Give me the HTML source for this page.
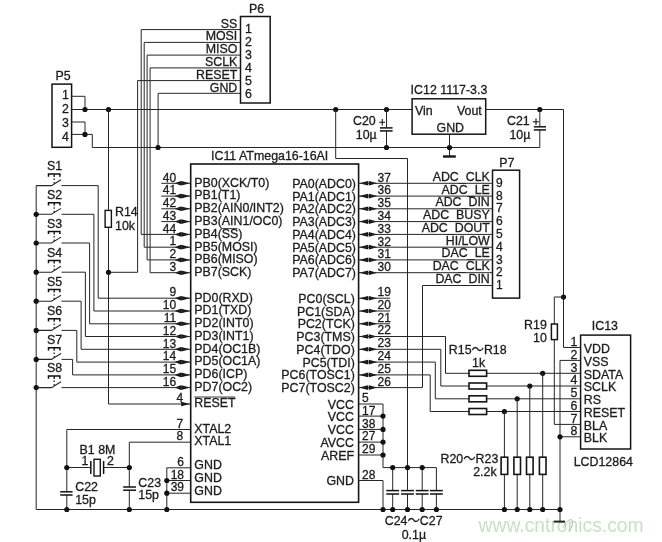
<!DOCTYPE html>
<html><head><meta charset="utf-8"><title>schematic</title>
<style>
html,body{margin:0;padding:0;background:#fff;}
body{width:662px;height:542px;overflow:hidden;}
svg{display:block;will-change:transform;}
text{stroke:#1c1c1c;stroke-width:0.3px;}
text.wm{stroke:none;}
svg{font-family:"Liberation Sans","Noto Sans CJK SC",sans-serif;}
</style></head><body>
<svg width="662" height="542" viewBox="0 0 662 542">
<text x="478.6" y="532.3" text-anchor="start" font-size="19.3" fill="#c6e2c2" class="wm">www.cntronics.com</text>
<path d="M563.5,527.5 C566,520.5 571,518 572.6,521 C573.4,524 571.5,528 569,531" stroke="#a8aaa6" stroke-width="0.9" fill="none"/>
<rect x="190.7" y="164.0" width="167.9" height="338.3" stroke="#151515" stroke-width="1.6" fill="none"/>
<text x="211.0" y="159.7" text-anchor="start" font-size="12.4" fill="#1c1c1c">IC11 ATmega16-16AI</text>
<text x="194.3" y="186.6" text-anchor="start" font-size="12.4" fill="#1c1c1c">PB0(XCK/T0)</text>
<text x="176.2" y="181.5" text-anchor="end" font-size="12" fill="#1c1c1c">40</text>
<path d="M190.2,183.3 L181.2,181.0 L181.2,185.6Z" fill="#111"/>
<path d="M174.5,183.3 L181.0,181.0 L181.0,185.6Z" fill="#111"/>
<text x="194.3" y="199.4" text-anchor="start" font-size="12.4" fill="#1c1c1c">PB1(T1)</text>
<text x="176.2" y="194.3" text-anchor="end" font-size="12" fill="#1c1c1c">41</text>
<path d="M190.2,196.1 L181.2,193.8 L181.2,198.4Z" fill="#111"/>
<path d="M174.5,196.1 L181.0,193.8 L181.0,198.4Z" fill="#111"/>
<text x="194.3" y="212.1" text-anchor="start" font-size="12.4" fill="#1c1c1c">PB2(AIN0/INT2)</text>
<text x="176.2" y="207.0" text-anchor="end" font-size="12" fill="#1c1c1c">42</text>
<path d="M190.2,208.8 L181.2,206.5 L181.2,211.1Z" fill="#111"/>
<path d="M174.5,208.8 L181.0,206.5 L181.0,211.1Z" fill="#111"/>
<text x="194.3" y="224.9" text-anchor="start" font-size="12.4" fill="#1c1c1c">PB3(AIN1/OC0)</text>
<text x="176.2" y="219.8" text-anchor="end" font-size="12" fill="#1c1c1c">43</text>
<path d="M190.2,221.6 L181.2,219.3 L181.2,223.9Z" fill="#111"/>
<path d="M174.5,221.6 L181.0,219.3 L181.0,223.9Z" fill="#111"/>
<text x="194.3" y="237.7" text-anchor="start" font-size="12.4" fill="#1c1c1c">PB4(SS)</text>
<text x="176.2" y="232.6" text-anchor="end" font-size="12" fill="#1c1c1c">44</text>
<path d="M190.2,234.4 L181.2,232.1 L181.2,236.7Z" fill="#111"/>
<path d="M174.5,234.4 L181.0,232.1 L181.0,236.7Z" fill="#111"/>
<text x="194.3" y="250.5" text-anchor="start" font-size="12.4" fill="#1c1c1c">PB5(MOSI)</text>
<text x="176.2" y="245.3" text-anchor="end" font-size="12" fill="#1c1c1c">1</text>
<path d="M190.2,247.2 L181.2,244.8 L181.2,249.5Z" fill="#111"/>
<path d="M174.5,247.2 L181.0,244.8 L181.0,249.5Z" fill="#111"/>
<text x="194.3" y="263.2" text-anchor="start" font-size="12.4" fill="#1c1c1c">PB6(MISO)</text>
<text x="176.2" y="258.1" text-anchor="end" font-size="12" fill="#1c1c1c">2</text>
<path d="M190.2,259.9 L181.2,257.6 L181.2,262.2Z" fill="#111"/>
<path d="M174.5,259.9 L181.0,257.6 L181.0,262.2Z" fill="#111"/>
<text x="194.3" y="276.0" text-anchor="start" font-size="12.4" fill="#1c1c1c">PB7(SCK)</text>
<text x="176.2" y="270.9" text-anchor="end" font-size="12" fill="#1c1c1c">3</text>
<path d="M190.2,272.7 L181.2,270.4 L181.2,275.0Z" fill="#111"/>
<path d="M174.5,272.7 L181.0,270.4 L181.0,275.0Z" fill="#111"/>
<path d="M221.5,228.6 L237.2,228.6" stroke="#262626" stroke-width="0.9" fill="none"/>
<text x="194.3" y="301.5" text-anchor="start" font-size="12.4" fill="#1c1c1c">PD0(RXD)</text>
<text x="176.2" y="296.4" text-anchor="end" font-size="12" fill="#1c1c1c">9</text>
<path d="M190.2,298.2 L181.2,295.9 L181.2,300.5Z" fill="#111"/>
<path d="M174.5,298.2 L181.0,295.9 L181.0,300.5Z" fill="#111"/>
<text x="194.3" y="314.3" text-anchor="start" font-size="12.4" fill="#1c1c1c">PD1(TXD)</text>
<text x="176.2" y="309.2" text-anchor="end" font-size="12" fill="#1c1c1c">10</text>
<path d="M190.2,311.0 L181.2,308.7 L181.2,313.3Z" fill="#111"/>
<path d="M174.5,311.0 L181.0,308.7 L181.0,313.3Z" fill="#111"/>
<text x="194.3" y="327.1" text-anchor="start" font-size="12.4" fill="#1c1c1c">PD2(INT0)</text>
<text x="176.2" y="322.0" text-anchor="end" font-size="12" fill="#1c1c1c">11</text>
<path d="M190.2,323.8 L181.2,321.5 L181.2,326.1Z" fill="#111"/>
<path d="M174.5,323.8 L181.0,321.5 L181.0,326.1Z" fill="#111"/>
<text x="194.3" y="339.8" text-anchor="start" font-size="12.4" fill="#1c1c1c">PD3(INT1)</text>
<text x="176.2" y="334.7" text-anchor="end" font-size="12" fill="#1c1c1c">12</text>
<path d="M190.2,336.5 L181.2,334.2 L181.2,338.8Z" fill="#111"/>
<path d="M174.5,336.5 L181.0,334.2 L181.0,338.8Z" fill="#111"/>
<text x="194.3" y="352.6" text-anchor="start" font-size="12.4" fill="#1c1c1c">PD4(OC1B)</text>
<text x="176.2" y="347.5" text-anchor="end" font-size="12" fill="#1c1c1c">13</text>
<path d="M190.2,349.3 L181.2,347.0 L181.2,351.6Z" fill="#111"/>
<path d="M174.5,349.3 L181.0,347.0 L181.0,351.6Z" fill="#111"/>
<text x="194.3" y="365.4" text-anchor="start" font-size="12.4" fill="#1c1c1c">PD5(OC1A)</text>
<text x="176.2" y="360.3" text-anchor="end" font-size="12" fill="#1c1c1c">14</text>
<path d="M190.2,362.1 L181.2,359.8 L181.2,364.4Z" fill="#111"/>
<path d="M174.5,362.1 L181.0,359.8 L181.0,364.4Z" fill="#111"/>
<text x="194.3" y="378.2" text-anchor="start" font-size="12.4" fill="#1c1c1c">PD6(ICP)</text>
<text x="176.2" y="373.1" text-anchor="end" font-size="12" fill="#1c1c1c">15</text>
<path d="M190.2,374.9 L181.2,372.6 L181.2,377.2Z" fill="#111"/>
<path d="M174.5,374.9 L181.0,372.6 L181.0,377.2Z" fill="#111"/>
<text x="194.3" y="390.9" text-anchor="start" font-size="12.4" fill="#1c1c1c">PD7(OC2)</text>
<text x="176.2" y="385.8" text-anchor="end" font-size="12" fill="#1c1c1c">16</text>
<path d="M190.2,387.6 L181.2,385.3 L181.2,389.9Z" fill="#111"/>
<path d="M174.5,387.6 L181.0,385.3 L181.0,389.9Z" fill="#111"/>
<text x="194.3" y="406.6" text-anchor="start" font-size="12.4" fill="#1c1c1c">RESET</text>
<path d="M194.3,397.0 L235.0,397.0" stroke="#262626" stroke-width="0.9" fill="none"/>
<text x="183.2" y="401.5" text-anchor="end" font-size="12" fill="#1c1c1c">4</text>
<path d="M190.2,404.0 L181.2,401.7 L181.2,406.3Z" fill="#111"/>
<text x="194.3" y="432.8" text-anchor="start" font-size="12.4" fill="#1c1c1c">XTAL2</text>
<text x="194.3" y="444.9" text-anchor="start" font-size="12.4" fill="#1c1c1c">XTAL1</text>
<text x="183.3" y="427.7" text-anchor="end" font-size="12" fill="#1c1c1c">7</text>
<text x="183.3" y="440.4" text-anchor="end" font-size="12" fill="#1c1c1c">8</text>
<text x="194.3" y="469.4" text-anchor="start" font-size="12.4" fill="#1c1c1c">GND</text>
<text x="184.0" y="465.8" text-anchor="end" font-size="12" fill="#1c1c1c">6</text>
<text x="194.3" y="482.2" text-anchor="start" font-size="12.4" fill="#1c1c1c">GND</text>
<text x="184.0" y="478.5" text-anchor="end" font-size="12" fill="#1c1c1c">18</text>
<text x="194.3" y="494.9" text-anchor="start" font-size="12.4" fill="#1c1c1c">GND</text>
<text x="184.0" y="491.2" text-anchor="end" font-size="12" fill="#1c1c1c">39</text>
<text x="356.0" y="187.8" text-anchor="end" font-size="12.4" fill="#1c1c1c">PA0(ADC0)</text>
<text x="377.5" y="181.6" text-anchor="start" font-size="12" fill="#1c1c1c">37</text>
<path d="M359.1,183.3 L368.1,181.0 L368.1,185.6Z" fill="#111"/>
<path d="M377.3,183.3 L368.8,181.0 L368.8,185.6Z" fill="#111"/>
<text x="356.0" y="200.6" text-anchor="end" font-size="12.4" fill="#1c1c1c">PA1(ADC1)</text>
<text x="377.5" y="194.4" text-anchor="start" font-size="12" fill="#1c1c1c">36</text>
<path d="M359.1,196.1 L368.1,193.8 L368.1,198.4Z" fill="#111"/>
<path d="M377.3,196.1 L368.8,193.8 L368.8,198.4Z" fill="#111"/>
<text x="356.0" y="213.3" text-anchor="end" font-size="12.4" fill="#1c1c1c">PA2(ADC2)</text>
<text x="377.5" y="207.1" text-anchor="start" font-size="12" fill="#1c1c1c">35</text>
<path d="M359.1,208.8 L368.1,206.5 L368.1,211.1Z" fill="#111"/>
<path d="M377.3,208.8 L368.8,206.5 L368.8,211.1Z" fill="#111"/>
<text x="356.0" y="226.1" text-anchor="end" font-size="12.4" fill="#1c1c1c">PA3(ADC3)</text>
<text x="377.5" y="219.9" text-anchor="start" font-size="12" fill="#1c1c1c">34</text>
<path d="M359.1,221.6 L368.1,219.3 L368.1,223.9Z" fill="#111"/>
<path d="M377.3,221.6 L368.8,219.3 L368.8,223.9Z" fill="#111"/>
<text x="356.0" y="238.9" text-anchor="end" font-size="12.4" fill="#1c1c1c">PA4(ADC4)</text>
<text x="377.5" y="232.7" text-anchor="start" font-size="12" fill="#1c1c1c">33</text>
<path d="M359.1,234.4 L368.1,232.1 L368.1,236.7Z" fill="#111"/>
<path d="M377.3,234.4 L368.8,232.1 L368.8,236.7Z" fill="#111"/>
<text x="356.0" y="251.7" text-anchor="end" font-size="12.4" fill="#1c1c1c">PA5(ADC5)</text>
<text x="377.5" y="245.5" text-anchor="start" font-size="12" fill="#1c1c1c">32</text>
<path d="M359.1,247.2 L368.1,244.8 L368.1,249.5Z" fill="#111"/>
<path d="M377.3,247.2 L368.8,244.8 L368.8,249.5Z" fill="#111"/>
<text x="356.0" y="264.4" text-anchor="end" font-size="12.4" fill="#1c1c1c">PA6(ADC6)</text>
<text x="377.5" y="258.2" text-anchor="start" font-size="12" fill="#1c1c1c">31</text>
<path d="M359.1,259.9 L368.1,257.6 L368.1,262.2Z" fill="#111"/>
<path d="M377.3,259.9 L368.8,257.6 L368.8,262.2Z" fill="#111"/>
<text x="356.0" y="277.2" text-anchor="end" font-size="12.4" fill="#1c1c1c">PA7(ADC7)</text>
<text x="377.5" y="271.0" text-anchor="start" font-size="12" fill="#1c1c1c">30</text>
<path d="M359.1,272.7 L368.1,270.4 L368.1,275.0Z" fill="#111"/>
<path d="M377.3,272.7 L368.8,270.4 L368.8,275.0Z" fill="#111"/>
<text x="354.8" y="302.7" text-anchor="end" font-size="12.4" fill="#1c1c1c">PC0(SCL)</text>
<text x="377.5" y="296.1" text-anchor="start" font-size="12" fill="#1c1c1c">19</text>
<path d="M359.1,298.2 L368.1,295.9 L368.1,300.5Z" fill="#111"/>
<path d="M377.3,298.2 L368.8,295.9 L368.8,300.5Z" fill="#111"/>
<text x="354.8" y="315.5" text-anchor="end" font-size="12.4" fill="#1c1c1c">PC1(SDA)</text>
<text x="377.5" y="308.9" text-anchor="start" font-size="12" fill="#1c1c1c">20</text>
<path d="M359.1,311.0 L368.1,308.7 L368.1,313.3Z" fill="#111"/>
<path d="M377.3,311.0 L368.8,308.7 L368.8,313.3Z" fill="#111"/>
<text x="354.8" y="328.3" text-anchor="end" font-size="12.4" fill="#1c1c1c">PC2(TCK)</text>
<text x="377.5" y="321.7" text-anchor="start" font-size="12" fill="#1c1c1c">21</text>
<path d="M359.1,323.8 L368.1,321.5 L368.1,326.1Z" fill="#111"/>
<path d="M377.3,323.8 L368.8,321.5 L368.8,326.1Z" fill="#111"/>
<text x="354.8" y="341.0" text-anchor="end" font-size="12.4" fill="#1c1c1c">PC3(TMS)</text>
<text x="377.5" y="334.4" text-anchor="start" font-size="12" fill="#1c1c1c">22</text>
<path d="M359.1,336.5 L368.1,334.2 L368.1,338.8Z" fill="#111"/>
<path d="M377.3,336.5 L368.8,334.2 L368.8,338.8Z" fill="#111"/>
<text x="354.8" y="353.8" text-anchor="end" font-size="12.4" fill="#1c1c1c">PC4(TDO)</text>
<text x="377.5" y="347.2" text-anchor="start" font-size="12" fill="#1c1c1c">23</text>
<path d="M359.1,349.3 L368.1,347.0 L368.1,351.6Z" fill="#111"/>
<path d="M377.3,349.3 L368.8,347.0 L368.8,351.6Z" fill="#111"/>
<text x="354.8" y="366.6" text-anchor="end" font-size="12.4" fill="#1c1c1c">PC5(TDI)</text>
<text x="377.5" y="360.0" text-anchor="start" font-size="12" fill="#1c1c1c">24</text>
<path d="M359.1,362.1 L368.1,359.8 L368.1,364.4Z" fill="#111"/>
<path d="M377.3,362.1 L368.8,359.8 L368.8,364.4Z" fill="#111"/>
<text x="354.8" y="379.4" text-anchor="end" font-size="12.4" fill="#1c1c1c">PC6(TOSC1)</text>
<text x="377.5" y="372.8" text-anchor="start" font-size="12" fill="#1c1c1c">25</text>
<path d="M359.1,374.9 L368.1,372.6 L368.1,377.2Z" fill="#111"/>
<path d="M377.3,374.9 L368.8,372.6 L368.8,377.2Z" fill="#111"/>
<text x="354.8" y="392.1" text-anchor="end" font-size="12.4" fill="#1c1c1c">PC7(TOSC2)</text>
<text x="377.5" y="385.5" text-anchor="start" font-size="12" fill="#1c1c1c">26</text>
<path d="M359.1,387.6 L368.1,385.3 L368.1,389.9Z" fill="#111"/>
<path d="M377.3,387.6 L368.8,385.3 L368.8,389.9Z" fill="#111"/>
<text x="354.0" y="408.6" text-anchor="end" font-size="12.4" fill="#1c1c1c">VCC</text>
<text x="362.0" y="402.0" text-anchor="start" font-size="12" fill="#1c1c1c">5</text>
<text x="354.0" y="421.4" text-anchor="end" font-size="12.4" fill="#1c1c1c">VCC</text>
<text x="362.0" y="414.8" text-anchor="start" font-size="12" fill="#1c1c1c">17</text>
<text x="354.0" y="434.1" text-anchor="end" font-size="12.4" fill="#1c1c1c">VCC</text>
<text x="362.0" y="427.5" text-anchor="start" font-size="12" fill="#1c1c1c">38</text>
<text x="354.0" y="446.9" text-anchor="end" font-size="12.4" fill="#1c1c1c">AVCC</text>
<text x="362.0" y="440.2" text-anchor="start" font-size="12" fill="#1c1c1c">27</text>
<text x="354.0" y="459.6" text-anchor="end" font-size="12.4" fill="#1c1c1c">AREF</text>
<text x="362.0" y="453.0" text-anchor="start" font-size="12" fill="#1c1c1c">29</text>
<text x="354.0" y="484.8" text-anchor="end" font-size="12.4" fill="#1c1c1c">GND</text>
<text x="362.0" y="478.5" text-anchor="start" font-size="12" fill="#1c1c1c">28</text>
<path d="M161.3,183.3 L190.7,183.3" stroke="#262626" stroke-width="1.0" fill="none"/>
<path d="M161.3,196.1 L190.7,196.1" stroke="#262626" stroke-width="1.0" fill="none"/>
<path d="M161.3,208.8 L190.7,208.8" stroke="#262626" stroke-width="1.0" fill="none"/>
<path d="M161.3,221.6 L190.7,221.6" stroke="#262626" stroke-width="1.0" fill="none"/>
<path d="M240.5,29.6 L141.2,29.6 L141.2,234.4 L190.7,234.4" stroke="#262626" stroke-width="1.0" fill="none"/>
<path d="M240.5,42.4 L144.2,42.4 L144.2,247.2 L190.7,247.2" stroke="#262626" stroke-width="1.0" fill="none"/>
<path d="M240.5,55.1 L147.1,55.1 L147.1,259.9 L190.7,259.9" stroke="#262626" stroke-width="1.0" fill="none"/>
<path d="M240.5,67.9 L150.1,67.9 L150.1,272.7 L190.7,272.7" stroke="#262626" stroke-width="1.0" fill="none"/>
<path d="M240.5,80.6 L137.6,80.6 L137.6,272.3 L108.5,272.3" stroke="#262626" stroke-width="1.0" fill="none"/>
<path d="M240.5,93.3 L158.1,93.3 L158.1,147.5" stroke="#262626" stroke-width="1.0" fill="none"/>
<rect x="240.5" y="16.5" width="29.7" height="86.5" stroke="#151515" stroke-width="1.5" fill="none"/>
<text x="249.0" y="13.4" text-anchor="start" font-size="12.4" fill="#1c1c1c">P6</text>
<text x="237.3" y="27.5" text-anchor="end" font-size="12.4" fill="#1c1c1c">SS</text>
<text x="245.0" y="33.0" text-anchor="start" font-size="12.4" fill="#1c1c1c">1</text>
<text x="237.3" y="40.2" text-anchor="end" font-size="12.4" fill="#1c1c1c">MOSI</text>
<text x="245.0" y="45.9" text-anchor="start" font-size="12.4" fill="#1c1c1c">2</text>
<text x="237.3" y="53.0" text-anchor="end" font-size="12.4" fill="#1c1c1c">MISO</text>
<text x="245.0" y="58.8" text-anchor="start" font-size="12.4" fill="#1c1c1c">3</text>
<text x="237.3" y="66.0" text-anchor="end" font-size="12.4" fill="#1c1c1c">SCLK</text>
<text x="245.0" y="71.7" text-anchor="start" font-size="12.4" fill="#1c1c1c">4</text>
<text x="237.3" y="78.6" text-anchor="end" font-size="12.4" fill="#1c1c1c">RESET</text>
<text x="245.0" y="84.6" text-anchor="start" font-size="12.4" fill="#1c1c1c">5</text>
<text x="237.3" y="91.8" text-anchor="end" font-size="12.4" fill="#1c1c1c">GND</text>
<text x="245.0" y="97.5" text-anchor="start" font-size="12.4" fill="#1c1c1c">6</text>
<rect x="52.0" y="84.1" width="19.6" height="63.2" stroke="#151515" stroke-width="1.5" fill="none"/>
<text x="55.5" y="80.1" text-anchor="start" font-size="12.4" fill="#1c1c1c">P5</text>
<text x="65.4" y="99.2" text-anchor="middle" font-size="12.4" fill="#1c1c1c">1</text>
<text x="65.4" y="113.4" text-anchor="middle" font-size="12.4" fill="#1c1c1c">2</text>
<text x="65.4" y="127.3" text-anchor="middle" font-size="12.4" fill="#1c1c1c">3</text>
<text x="65.4" y="141.2" text-anchor="middle" font-size="12.4" fill="#1c1c1c">4</text>
<path d="M72.0,96.3 L85.0,96.3 L85.0,109.5" stroke="#262626" stroke-width="1.0" fill="none"/>
<path d="M72.0,109.5 L412.1,109.5" stroke="#262626" stroke-width="1.0" fill="none"/>
<path d="M72.0,122.0 L85.0,122.0 L85.0,134.4" stroke="#262626" stroke-width="1.0" fill="none"/>
<path d="M72.0,134.4 L92.3,134.4 L92.3,147.5 L539.8,147.5 L539.8,130.0" stroke="#262626" stroke-width="1.0" fill="none"/>
<circle cx="85.0" cy="109.5" r="2.6" fill="#111"/>
<circle cx="108.5" cy="109.5" r="2.6" fill="#111"/>
<circle cx="85.0" cy="134.4" r="2.6" fill="#111"/>
<circle cx="158.0" cy="147.5" r="2.6" fill="#111"/>
<path d="M108.5,109.5 L108.5,210.0" stroke="#262626" stroke-width="1.0" fill="none"/>
<path d="M108.5,227.0 L108.5,404.0 L190.7,404.0" stroke="#262626" stroke-width="1.0" fill="none"/>
<rect x="105.1" y="210.4" width="6.3" height="16.9" stroke="#151515" stroke-width="1.4" fill="#fff"/>
<text x="115.0" y="215.8" text-anchor="start" font-size="12.4" fill="#1c1c1c">R14</text>
<text x="115.0" y="230.0" text-anchor="start" font-size="12.4" fill="#1c1c1c">10k</text>
<circle cx="108.5" cy="272.3" r="2.6" fill="#111"/>
<path d="M36.2,185.6 L36.2,509.5 L560.0,509.5" stroke="#262626" stroke-width="1.0" fill="none"/>
<path d="M36.2,185.6 L51.5,185.6 L61.0,179.7" stroke="#262626" stroke-width="1.1" fill="none"/>
<path d="M61.5,185.6 L98.2,185.6 L98.2,298.2 L190.7,298.2" stroke="#262626" stroke-width="1.0" fill="none"/>
<text x="47.0" y="170.3" text-anchor="start" font-size="12.4" fill="#1c1c1c">S1</text>
<path d="M48.5,176.7 L48.5,174.0 L59.9,174.0 L59.9,176.7" stroke="#111" stroke-width="1.5" fill="none"/>
<path d="M54.2,174.0 L54.2,177.0" stroke="#111" stroke-width="1.3" fill="none"/>
<path d="M54.2,178.6 V183.8" stroke="#262626" stroke-width="1.3" stroke-dasharray="1.5 2" fill="none"/>
<path d="M36.2,214.3 L51.5,214.3 L61.0,208.4" stroke="#262626" stroke-width="1.1" fill="none"/>
<path d="M61.5,214.3 L93.9,214.3 L93.9,311.0 L190.7,311.0" stroke="#262626" stroke-width="1.0" fill="none"/>
<circle cx="36.2" cy="214.3" r="2.6" fill="#111"/>
<text x="47.0" y="199.0" text-anchor="start" font-size="12.4" fill="#1c1c1c">S2</text>
<path d="M48.5,205.4 L48.5,202.7 L59.9,202.7 L59.9,205.4" stroke="#111" stroke-width="1.5" fill="none"/>
<path d="M54.2,202.7 L54.2,205.7" stroke="#111" stroke-width="1.3" fill="none"/>
<path d="M54.2,207.3 V212.5" stroke="#262626" stroke-width="1.3" stroke-dasharray="1.5 2" fill="none"/>
<path d="M36.2,243.0 L51.5,243.0 L61.0,237.1" stroke="#262626" stroke-width="1.1" fill="none"/>
<path d="M61.5,243.0 L89.6,243.0 L89.6,323.8 L190.7,323.8" stroke="#262626" stroke-width="1.0" fill="none"/>
<circle cx="36.2" cy="243.0" r="2.6" fill="#111"/>
<text x="47.0" y="227.7" text-anchor="start" font-size="12.4" fill="#1c1c1c">S3</text>
<path d="M48.5,234.1 L48.5,231.4 L59.9,231.4 L59.9,234.1" stroke="#111" stroke-width="1.5" fill="none"/>
<path d="M54.2,231.4 L54.2,234.4" stroke="#111" stroke-width="1.3" fill="none"/>
<path d="M54.2,236.0 V241.2" stroke="#262626" stroke-width="1.3" stroke-dasharray="1.5 2" fill="none"/>
<path d="M36.2,272.2 L51.5,272.2 L61.0,266.3" stroke="#262626" stroke-width="1.1" fill="none"/>
<path d="M61.5,272.2 L85.4,272.2 L85.4,336.5 L190.7,336.5" stroke="#262626" stroke-width="1.0" fill="none"/>
<circle cx="36.2" cy="272.2" r="2.6" fill="#111"/>
<text x="47.0" y="256.9" text-anchor="start" font-size="12.4" fill="#1c1c1c">S4</text>
<path d="M48.5,263.3 L48.5,260.6 L59.9,260.6 L59.9,263.3" stroke="#111" stroke-width="1.5" fill="none"/>
<path d="M54.2,260.6 L54.2,263.6" stroke="#111" stroke-width="1.3" fill="none"/>
<path d="M54.2,265.2 V270.4" stroke="#262626" stroke-width="1.3" stroke-dasharray="1.5 2" fill="none"/>
<path d="M36.2,301.2 L51.5,301.2 L61.0,295.3" stroke="#262626" stroke-width="1.1" fill="none"/>
<path d="M61.5,301.2 L81.1,301.2 L81.1,349.3 L190.7,349.3" stroke="#262626" stroke-width="1.0" fill="none"/>
<circle cx="36.2" cy="301.2" r="2.6" fill="#111"/>
<text x="47.0" y="285.9" text-anchor="start" font-size="12.4" fill="#1c1c1c">S5</text>
<path d="M48.5,292.3 L48.5,289.6 L59.9,289.6 L59.9,292.3" stroke="#111" stroke-width="1.5" fill="none"/>
<path d="M54.2,289.6 L54.2,292.6" stroke="#111" stroke-width="1.3" fill="none"/>
<path d="M54.2,294.2 V299.4" stroke="#262626" stroke-width="1.3" stroke-dasharray="1.5 2" fill="none"/>
<path d="M36.2,330.4 L51.5,330.4 L61.0,324.5" stroke="#262626" stroke-width="1.1" fill="none"/>
<path d="M61.5,330.4 L76.8,330.4 L76.8,362.1 L190.7,362.1" stroke="#262626" stroke-width="1.0" fill="none"/>
<circle cx="36.2" cy="330.4" r="2.6" fill="#111"/>
<text x="47.0" y="315.1" text-anchor="start" font-size="12.4" fill="#1c1c1c">S6</text>
<path d="M48.5,321.5 L48.5,318.8 L59.9,318.8 L59.9,321.5" stroke="#111" stroke-width="1.5" fill="none"/>
<path d="M54.2,318.8 L54.2,321.8" stroke="#111" stroke-width="1.3" fill="none"/>
<path d="M54.2,323.4 V328.6" stroke="#262626" stroke-width="1.3" stroke-dasharray="1.5 2" fill="none"/>
<path d="M36.2,359.4 L51.5,359.4 L61.0,353.5" stroke="#262626" stroke-width="1.1" fill="none"/>
<path d="M61.5,359.4 L72.6,359.4 L72.6,374.9 L190.7,374.9" stroke="#262626" stroke-width="1.0" fill="none"/>
<circle cx="36.2" cy="359.4" r="2.6" fill="#111"/>
<text x="47.0" y="344.1" text-anchor="start" font-size="12.4" fill="#1c1c1c">S7</text>
<path d="M48.5,350.5 L48.5,347.8 L59.9,347.8 L59.9,350.5" stroke="#111" stroke-width="1.5" fill="none"/>
<path d="M54.2,347.8 L54.2,350.8" stroke="#111" stroke-width="1.3" fill="none"/>
<path d="M54.2,352.4 V357.6" stroke="#262626" stroke-width="1.3" stroke-dasharray="1.5 2" fill="none"/>
<path d="M36.2,387.6 L51.5,387.6 L61.0,381.7" stroke="#262626" stroke-width="1.1" fill="none"/>
<path d="M61.5,387.6 L190.7,387.6" stroke="#262626" stroke-width="1.0" fill="none"/>
<circle cx="36.2" cy="387.6" r="2.6" fill="#111"/>
<text x="47.0" y="372.3" text-anchor="start" font-size="12.4" fill="#1c1c1c">S8</text>
<path d="M48.5,378.7 L48.5,376.0 L59.9,376.0 L59.9,378.7" stroke="#111" stroke-width="1.5" fill="none"/>
<path d="M54.2,376.0 L54.2,379.0" stroke="#111" stroke-width="1.3" fill="none"/>
<path d="M54.2,380.6 V385.8" stroke="#262626" stroke-width="1.3" stroke-dasharray="1.5 2" fill="none"/>
<path d="M190.7,429.5 L66.8,429.5 L66.8,491.8" stroke="#262626" stroke-width="1.0" fill="none"/>
<path d="M66.8,495.0 L66.8,509.5" stroke="#262626" stroke-width="1.0" fill="none"/>
<path d="M190.7,442.2 L129.3,442.2 L129.3,487.0" stroke="#262626" stroke-width="1.0" fill="none"/>
<path d="M129.3,490.2 L129.3,509.5" stroke="#262626" stroke-width="1.0" fill="none"/>
<path d="M60.2,491.8 L72.6,491.8" stroke="#111" stroke-width="1.5" fill="none"/>
<path d="M60.2,495.0 L72.6,495.0" stroke="#111" stroke-width="1.5" fill="none"/>
<path d="M123.2,487.0 L136.0,487.0" stroke="#111" stroke-width="1.5" fill="none"/>
<path d="M123.2,490.2 L136.0,490.2" stroke="#111" stroke-width="1.5" fill="none"/>
<path d="M66.8,467.5 L90.8,467.5" stroke="#262626" stroke-width="1.0" fill="none"/>
<path d="M103.6,467.5 L129.3,467.5" stroke="#262626" stroke-width="1.0" fill="none"/>
<path d="M90.8,461.0 L90.8,474.0" stroke="#111" stroke-width="1.5" fill="none"/>
<path d="M103.6,461.0 L103.6,474.0" stroke="#111" stroke-width="1.5" fill="none"/>
<rect x="94.0" y="459.3" width="6.3" height="16.7" stroke="#151515" stroke-width="1.4" fill="none"/>
<circle cx="66.8" cy="467.5" r="2.6" fill="#111"/>
<circle cx="129.3" cy="467.5" r="2.6" fill="#111"/>
<circle cx="66.8" cy="509.5" r="2.6" fill="#111"/>
<circle cx="129.3" cy="509.5" r="2.6" fill="#111"/>
<text x="79.6" y="453.7" text-anchor="start" font-size="12.4" fill="#1c1c1c">B1 8M</text>
<text x="81.5" y="464.6" text-anchor="start" font-size="12.4" fill="#1c1c1c">1</text>
<text x="107.0" y="464.6" text-anchor="start" font-size="12.4" fill="#1c1c1c">2</text>
<text x="75.2" y="490.6" text-anchor="start" font-size="12.4" fill="#1c1c1c">C22</text>
<text x="75.2" y="504.0" text-anchor="start" font-size="12.4" fill="#1c1c1c">15p</text>
<text x="138.3" y="486.6" text-anchor="start" font-size="12.4" fill="#1c1c1c">C23</text>
<text x="138.3" y="498.6" text-anchor="start" font-size="12.4" fill="#1c1c1c">15p</text>
<path d="M190.7,467.8 L166.8,467.8 L166.8,509.5" stroke="#262626" stroke-width="1.0" fill="none"/>
<path d="M190.7,480.5 L166.8,480.5" stroke="#262626" stroke-width="1.0" fill="none"/>
<path d="M190.7,493.2 L166.8,493.2" stroke="#262626" stroke-width="1.0" fill="none"/>
<circle cx="166.8" cy="480.5" r="2.6" fill="#111"/>
<circle cx="166.8" cy="493.2" r="2.6" fill="#111"/>
<circle cx="166.8" cy="509.5" r="2.6" fill="#111"/>
<circle cx="335.7" cy="109.5" r="2.6" fill="#111"/>
<circle cx="386.5" cy="109.5" r="2.6" fill="#111"/>
<path d="M335.7,109.5 L335.7,158.5 L407.5,158.5 L407.5,467.6" stroke="#262626" stroke-width="1.0" fill="none"/>
<rect x="412.1" y="98.8" width="73.6" height="35.4" stroke="#151515" stroke-width="1.5" fill="none"/>
<text x="410.6" y="94.0" text-anchor="start" font-size="12.4" fill="#1c1c1c">IC12 1117-3.3</text>
<text x="415.0" y="115.0" text-anchor="start" font-size="12.4" fill="#1c1c1c">Vin</text>
<text x="481.8" y="115.2" text-anchor="end" font-size="12.4" fill="#1c1c1c">Vout</text>
<text x="450.3" y="131.9" text-anchor="middle" font-size="12.4" fill="#1c1c1c">GND</text>
<path d="M386.5,109.5 L386.5,127.9" stroke="#262626" stroke-width="1.0" fill="none"/>
<path d="M386.5,130.9 L386.5,147.5" stroke="#262626" stroke-width="1.0" fill="none"/>
<path d="M380.0,127.9 L392.6,127.9" stroke="#111" stroke-width="1.5" fill="none"/>
<path d="M380.0,130.9 L392.6,130.9" stroke="#111" stroke-width="1.5" fill="none"/>
<path d="M379.3,122.3 L385.0,122.3" stroke="#262626" stroke-width="1.2" fill="none"/>
<path d="M382.3,119.1 L382.3,125.4" stroke="#262626" stroke-width="1.2" fill="none"/>
<text x="353.0" y="125.0" text-anchor="start" font-size="12.4" fill="#1c1c1c">C20</text>
<text x="355.8" y="139.0" text-anchor="start" font-size="12.4" fill="#1c1c1c">10µ</text>
<circle cx="386.5" cy="147.5" r="2.6" fill="#111"/>
<path d="M449.5,134.0 L449.5,156.0" stroke="#262626" stroke-width="1.0" fill="none"/>
<path d="M443.0,156.5 L455.8,156.5" stroke="#151515" stroke-width="2.4" fill="none"/>
<circle cx="449.5" cy="147.5" r="2.6" fill="#111"/>
<path d="M485.7,109.5 L563.5,109.5 L563.5,347.5 L580.6,347.5" stroke="#262626" stroke-width="1.0" fill="none"/>
<circle cx="539.8" cy="109.5" r="2.6" fill="#111"/>
<path d="M539.8,109.5 L539.8,126.8" stroke="#262626" stroke-width="1.0" fill="none"/>
<path d="M533.8,126.8 L546.0,126.8" stroke="#111" stroke-width="1.5" fill="none"/>
<path d="M533.8,129.9 L546.0,129.9" stroke="#111" stroke-width="1.5" fill="none"/>
<path d="M532.8,121.8 L538.8,121.8" stroke="#262626" stroke-width="1.2" fill="none"/>
<path d="M536.0,118.6 L536.0,125.0" stroke="#262626" stroke-width="1.2" fill="none"/>
<text x="507.0" y="125.0" text-anchor="start" font-size="12.4" fill="#1c1c1c">C21</text>
<text x="509.4" y="138.5" text-anchor="start" font-size="12.4" fill="#1c1c1c">10µ</text>
<rect x="492.5" y="170.2" width="27.1" height="127.9" stroke="#151515" stroke-width="1.5" fill="none"/>
<text x="499.2" y="166.7" text-anchor="start" font-size="12.4" fill="#1c1c1c">P7</text>
<text x="489.8" y="180.7" text-anchor="end" font-size="12.4" fill="#1c1c1c">ADC_CLK</text>
<text x="496.0" y="186.9" text-anchor="start" font-size="12" fill="#1c1c1c">9</text>
<path d="M358.6,183.3 L492.5,183.3" stroke="#262626" stroke-width="1.0" fill="none"/>
<text x="489.8" y="193.5" text-anchor="end" font-size="12.4" fill="#1c1c1c">ADC_LE</text>
<text x="496.0" y="199.7" text-anchor="start" font-size="12" fill="#1c1c1c">8</text>
<path d="M358.6,196.1 L492.5,196.1" stroke="#262626" stroke-width="1.0" fill="none"/>
<text x="489.8" y="206.2" text-anchor="end" font-size="12.4" fill="#1c1c1c">ADC_DIN</text>
<text x="496.0" y="212.4" text-anchor="start" font-size="12" fill="#1c1c1c">7</text>
<path d="M358.6,208.8 L492.5,208.8" stroke="#262626" stroke-width="1.0" fill="none"/>
<text x="489.8" y="219.0" text-anchor="end" font-size="12.4" fill="#1c1c1c">ADC_BUSY</text>
<text x="496.0" y="225.2" text-anchor="start" font-size="12" fill="#1c1c1c">6</text>
<path d="M358.6,221.6 L492.5,221.6" stroke="#262626" stroke-width="1.0" fill="none"/>
<text x="489.8" y="231.8" text-anchor="end" font-size="12.4" fill="#1c1c1c">ADC_DOUT</text>
<text x="496.0" y="238.0" text-anchor="start" font-size="12" fill="#1c1c1c">5</text>
<path d="M358.6,234.4 L492.5,234.4" stroke="#262626" stroke-width="1.0" fill="none"/>
<text x="489.8" y="244.6" text-anchor="end" font-size="12.4" fill="#1c1c1c">HI/LOW</text>
<text x="496.0" y="250.8" text-anchor="start" font-size="12" fill="#1c1c1c">4</text>
<path d="M358.6,247.2 L492.5,247.2" stroke="#262626" stroke-width="1.0" fill="none"/>
<text x="489.8" y="257.3" text-anchor="end" font-size="12.4" fill="#1c1c1c">DAC_LE</text>
<text x="496.0" y="263.5" text-anchor="start" font-size="12" fill="#1c1c1c">3</text>
<path d="M358.6,259.9 L492.5,259.9" stroke="#262626" stroke-width="1.0" fill="none"/>
<text x="489.8" y="270.1" text-anchor="end" font-size="12.4" fill="#1c1c1c">DAC_CLK</text>
<text x="496.0" y="276.3" text-anchor="start" font-size="12" fill="#1c1c1c">2</text>
<path d="M358.6,272.7 L492.5,272.7" stroke="#262626" stroke-width="1.0" fill="none"/>
<text x="489.8" y="282.9" text-anchor="end" font-size="12.4" fill="#1c1c1c">DAC_DIN</text>
<text x="496.0" y="289.1" text-anchor="start" font-size="12" fill="#1c1c1c">1</text>
<path d="M492.5,285.5 L422.5,285.5 L422.5,387.6 L358.6,387.6" stroke="#262626" stroke-width="1.0" fill="none"/>
<path d="M358.6,298.2 L390.0,298.2" stroke="#262626" stroke-width="1.0" fill="none"/>
<path d="M358.6,311.0 L390.0,311.0" stroke="#262626" stroke-width="1.0" fill="none"/>
<path d="M358.6,323.8 L390.0,323.8" stroke="#262626" stroke-width="1.0" fill="none"/>
<path d="M358.6,336.5 L445.5,336.5 L445.5,373.3 L469.0,373.3" stroke="#262626" stroke-width="1.0" fill="none"/>
<path d="M486.6,373.3 L580.6,373.3" stroke="#262626" stroke-width="1.0" fill="none"/>
<rect x="469.0" y="370.3" width="17.6" height="6.0" stroke="#151515" stroke-width="1.6" fill="none"/>
<circle cx="542.7" cy="373.3" r="2.6" fill="#111"/>
<path d="M542.7,373.3 L542.7,457.2" stroke="#262626" stroke-width="1.0" fill="none"/>
<path d="M542.7,474.4 L542.7,509.5" stroke="#262626" stroke-width="1.0" fill="none"/>
<rect x="539.4" y="457.2" width="6.6" height="17.2" stroke="#151515" stroke-width="1.6" fill="none"/>
<circle cx="542.7" cy="509.5" r="2.6" fill="#111"/>
<path d="M358.6,349.3 L440.8,349.3 L440.8,386.0 L469.0,386.0" stroke="#262626" stroke-width="1.0" fill="none"/>
<path d="M486.6,386.0 L580.6,386.0" stroke="#262626" stroke-width="1.0" fill="none"/>
<rect x="469.0" y="383.0" width="17.6" height="6.0" stroke="#151515" stroke-width="1.6" fill="none"/>
<circle cx="529.8" cy="386.0" r="2.6" fill="#111"/>
<path d="M529.8,386.0 L529.8,457.2" stroke="#262626" stroke-width="1.0" fill="none"/>
<path d="M529.8,474.4 L529.8,509.5" stroke="#262626" stroke-width="1.0" fill="none"/>
<rect x="526.5" y="457.2" width="6.6" height="17.2" stroke="#151515" stroke-width="1.6" fill="none"/>
<circle cx="529.8" cy="509.5" r="2.6" fill="#111"/>
<path d="M358.6,362.1 L435.3,362.1 L435.3,398.8 L469.0,398.8" stroke="#262626" stroke-width="1.0" fill="none"/>
<path d="M486.6,398.8 L580.6,398.8" stroke="#262626" stroke-width="1.0" fill="none"/>
<rect x="469.0" y="395.8" width="17.6" height="6.0" stroke="#151515" stroke-width="1.6" fill="none"/>
<circle cx="517.2" cy="398.8" r="2.6" fill="#111"/>
<path d="M517.2,398.8 L517.2,457.2" stroke="#262626" stroke-width="1.0" fill="none"/>
<path d="M517.2,474.4 L517.2,509.5" stroke="#262626" stroke-width="1.0" fill="none"/>
<rect x="513.9" y="457.2" width="6.6" height="17.2" stroke="#151515" stroke-width="1.6" fill="none"/>
<circle cx="517.2" cy="509.5" r="2.6" fill="#111"/>
<path d="M358.6,374.9 L430.2,374.9 L430.2,411.5 L469.0,411.5" stroke="#262626" stroke-width="1.0" fill="none"/>
<path d="M486.6,411.5 L580.6,411.5" stroke="#262626" stroke-width="1.0" fill="none"/>
<rect x="469.0" y="408.5" width="17.6" height="6.0" stroke="#151515" stroke-width="1.6" fill="none"/>
<circle cx="504.4" cy="411.5" r="2.6" fill="#111"/>
<path d="M504.4,411.5 L504.4,457.2" stroke="#262626" stroke-width="1.0" fill="none"/>
<path d="M504.4,474.4 L504.4,509.5" stroke="#262626" stroke-width="1.0" fill="none"/>
<rect x="501.1" y="457.2" width="6.6" height="17.2" stroke="#151515" stroke-width="1.6" fill="none"/>
<circle cx="504.4" cy="509.5" r="2.6" fill="#111"/>
<text x="448.8" y="353.8" text-anchor="start" font-size="12.4" fill="#1c1c1c">R15～R18</text>
<text x="472.0" y="366.8" text-anchor="start" font-size="12.4" fill="#1c1c1c">1k</text>
<text x="440.5" y="462.9" text-anchor="start" font-size="12.4" fill="#1c1c1c">R20～R23</text>
<text x="496.6" y="475.5" text-anchor="end" font-size="12.4" fill="#1c1c1c">2.2k</text>
<path d="M358.6,404.0 L383.0,404.0 L383.0,467.6 L436.4,467.6 L436.4,490.6" stroke="#262626" stroke-width="1.0" fill="none"/>
<path d="M358.6,416.1 L383.0,416.1" stroke="#262626" stroke-width="1.0" fill="none"/>
<circle cx="383.0" cy="416.1" r="2.6" fill="#111"/>
<path d="M358.6,429.4 L383.0,429.4" stroke="#262626" stroke-width="1.0" fill="none"/>
<circle cx="383.0" cy="429.4" r="2.6" fill="#111"/>
<path d="M358.6,442.1 L383.0,442.1" stroke="#262626" stroke-width="1.0" fill="none"/>
<circle cx="383.0" cy="442.1" r="2.6" fill="#111"/>
<path d="M358.6,455.0 L383.0,455.0" stroke="#262626" stroke-width="1.0" fill="none"/>
<circle cx="383.0" cy="455.0" r="2.6" fill="#111"/>
<path d="M358.6,480.5 L383.0,480.5 L383.0,509.5" stroke="#262626" stroke-width="1.0" fill="none"/>
<circle cx="383.0" cy="509.5" r="2.6" fill="#111"/>
<path d="M392.7,467.6 L392.7,490.6" stroke="#262626" stroke-width="1.0" fill="none"/>
<circle cx="392.7" cy="467.6" r="2.6" fill="#111"/>
<path d="M392.7,494.0 L392.7,509.5" stroke="#262626" stroke-width="1.0" fill="none"/>
<circle cx="392.7" cy="509.5" r="2.6" fill="#111"/>
<path d="M386.3,490.6 L399.1,490.6" stroke="#111" stroke-width="1.5" fill="none"/>
<path d="M386.3,494.0 L399.1,494.0" stroke="#111" stroke-width="1.5" fill="none"/>
<path d="M407.5,467.6 L407.5,490.6" stroke="#262626" stroke-width="1.0" fill="none"/>
<circle cx="407.5" cy="467.6" r="2.6" fill="#111"/>
<path d="M407.5,494.0 L407.5,509.5" stroke="#262626" stroke-width="1.0" fill="none"/>
<circle cx="407.5" cy="509.5" r="2.6" fill="#111"/>
<path d="M401.1,490.6 L413.9,490.6" stroke="#111" stroke-width="1.5" fill="none"/>
<path d="M401.1,494.0 L413.9,494.0" stroke="#111" stroke-width="1.5" fill="none"/>
<path d="M422.2,467.6 L422.2,490.6" stroke="#262626" stroke-width="1.0" fill="none"/>
<circle cx="422.2" cy="467.6" r="2.6" fill="#111"/>
<path d="M422.2,494.0 L422.2,509.5" stroke="#262626" stroke-width="1.0" fill="none"/>
<circle cx="422.2" cy="509.5" r="2.6" fill="#111"/>
<path d="M415.8,490.6 L428.6,490.6" stroke="#111" stroke-width="1.5" fill="none"/>
<path d="M415.8,494.0 L428.6,494.0" stroke="#111" stroke-width="1.5" fill="none"/>
<path d="M436.4,494.0 L436.4,509.5" stroke="#262626" stroke-width="1.0" fill="none"/>
<circle cx="436.4" cy="509.5" r="2.6" fill="#111"/>
<path d="M430.0,490.6 L442.8,490.6" stroke="#111" stroke-width="1.5" fill="none"/>
<path d="M430.0,494.0 L442.8,494.0" stroke="#111" stroke-width="1.5" fill="none"/>
<text x="384.7" y="525.3" text-anchor="start" font-size="12.4" fill="#1c1c1c">C24～C27</text>
<text x="401.7" y="539.0" text-anchor="start" font-size="12.4" fill="#1c1c1c">0.1µ</text>
<rect x="580.6" y="335.1" width="50.0" height="113.9" stroke="#151515" stroke-width="1.5" fill="none"/>
<text x="591.8" y="330.4" text-anchor="start" font-size="12.4" fill="#1c1c1c">IC13</text>
<text x="573.7" y="465.5" text-anchor="start" font-size="12.4" fill="#1c1c1c">LCD12864</text>
<text x="583.8" y="352.8" text-anchor="start" font-size="12.4" fill="#1c1c1c">VDD</text>
<text x="577.3" y="345.9" text-anchor="end" font-size="12.4" fill="#1c1c1c">1</text>
<text x="583.8" y="365.7" text-anchor="start" font-size="12.4" fill="#1c1c1c">VSS</text>
<text x="577.3" y="358.8" text-anchor="end" font-size="12.4" fill="#1c1c1c">2</text>
<text x="583.8" y="378.6" text-anchor="start" font-size="12.4" fill="#1c1c1c">SDATA</text>
<text x="577.3" y="371.7" text-anchor="end" font-size="12.4" fill="#1c1c1c">3</text>
<text x="583.8" y="391.3" text-anchor="start" font-size="12.4" fill="#1c1c1c">SCLK</text>
<text x="577.3" y="384.4" text-anchor="end" font-size="12.4" fill="#1c1c1c">4</text>
<text x="583.8" y="404.1" text-anchor="start" font-size="12.4" fill="#1c1c1c">RS</text>
<text x="577.3" y="397.2" text-anchor="end" font-size="12.4" fill="#1c1c1c">5</text>
<text x="583.8" y="416.8" text-anchor="start" font-size="12.4" fill="#1c1c1c">RESET</text>
<text x="577.3" y="409.9" text-anchor="end" font-size="12.4" fill="#1c1c1c">6</text>
<text x="583.8" y="429.7" text-anchor="start" font-size="12.4" fill="#1c1c1c">BLA</text>
<text x="577.3" y="422.8" text-anchor="end" font-size="12.4" fill="#1c1c1c">7</text>
<text x="583.8" y="442.1" text-anchor="start" font-size="12.4" fill="#1c1c1c">BLK</text>
<text x="577.3" y="435.2" text-anchor="end" font-size="12.4" fill="#1c1c1c">8</text>
<path d="M580.6,360.4 L560.0,360.4 L560.0,521.0" stroke="#262626" stroke-width="1.0" fill="none"/>
<path d="M580.6,436.8 L560.0,436.8" stroke="#262626" stroke-width="1.0" fill="none"/>
<circle cx="560.0" cy="436.8" r="2.6" fill="#111"/>
<circle cx="560.0" cy="509.5" r="2.6" fill="#111"/>
<path d="M553.6,521.6 L565.0,521.6" stroke="#262626" stroke-width="2.0" fill="none"/>
<circle cx="563.5" cy="297.0" r="2.6" fill="#111"/>
<path d="M563.5,297.0 L554.3,297.0 L554.3,324.0" stroke="#262626" stroke-width="1.0" fill="none"/>
<path d="M554.3,339.6 L554.3,424.4 L580.6,424.4" stroke="#262626" stroke-width="1.0" fill="none"/>
<rect x="551.4" y="324.0" width="6.0" height="15.6" stroke="#151515" stroke-width="1.5" fill="none"/>
<text x="546.8" y="329.0" text-anchor="end" font-size="12.4" fill="#1c1c1c">R19</text>
<text x="546.8" y="341.6" text-anchor="end" font-size="12.4" fill="#1c1c1c">10</text>
</svg>
</body></html>
